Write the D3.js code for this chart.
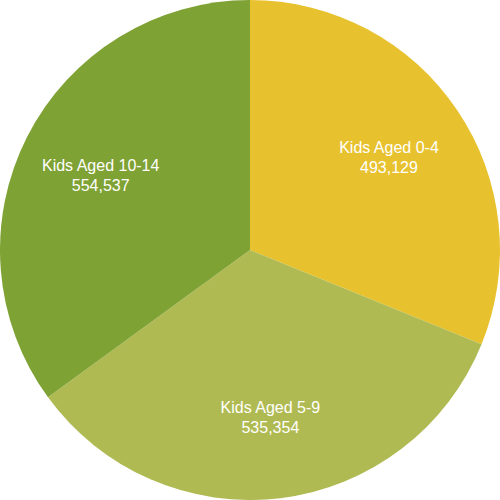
<!DOCTYPE html>
<html><head><meta charset="utf-8">
<script src="https://cdn.jsdelivr.net/npm/d3@7"></script>
<style>body{margin:0;background:#fff}</style>
</head><body>
<svg id="c" width="500" height="500"></svg>
<script>
const categories = ["Kids Aged 0-4", "Kids Aged 5-9", "Kids Aged 10-14"];
const values = [493129, 535354, 554537];
const colors = ["#E8C22E", "#B0BA52", "#7FA234"];

const svg = d3.select("#c");
const R = 250;
const g = svg.append("g").attr("transform", "translate(250,250)");
const pie = d3.pie().sort(null).value(d => d)(values);
const arc = d3.arc().innerRadius(0).outerRadius(R);
const labelArc = d3.arc().innerRadius(R * 0.67).outerRadius(R * 0.67);
g.selectAll("path").data(pie).enter().append("path")
  .attr("d", arc).attr("fill", (d, i) => colors[i]);
const fmt = d3.format(",");
const t = g.selectAll("text").data(pie).enter().append("text")
  .attr("transform", d => `translate(${labelArc.centroid(d)})`)
  .attr("text-anchor", "middle")
  .attr("fill", "#fff")
  .attr("font-family", "Liberation Sans, Arial, sans-serif")
  .attr("font-size", 16);
t.append("tspan").attr("x", 0).attr("dy", "-0.2em").text((d, i) => categories[i]);
t.append("tspan").attr("x", 0).attr("dy", "1.25em").text(d => fmt(d.data));
</script>
</body></html>
